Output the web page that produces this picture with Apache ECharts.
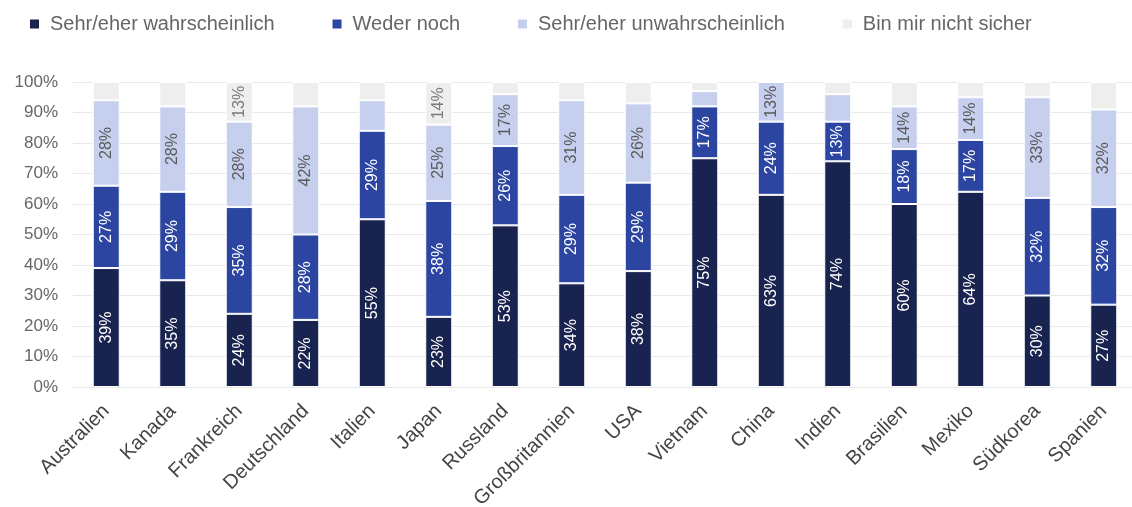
<!DOCTYPE html>
<html>
<head>
<meta charset="utf-8">
<script src="https://cdn.jsdelivr.net/npm/echarts@6/dist/echarts.min.js"></script>
<style>
  html, body { margin: 0; padding: 0; background: #ffffff; }
  #chart { width: 1132px; height: 507px; }
</style>
</head>
<body>
<div id="chart"></div>
<script>
// Länder (x-Achse)
const countries = ['Australien', 'Kanada', 'Frankreich', 'Deutschland', 'Italien', 'Japan', 'Russland',
  'Großbritannien', 'USA', 'Vietnam', 'China', 'Indien', 'Brasilien', 'Mexiko', 'Südkorea', 'Spanien'];

// Anteile in Prozent je Antwortkategorie
const likely     = [39, 35, 24, 22, 55, 23, 53, 34, 38, 75, 63, 74, 60, 64, 30, 27];
const neither    = [27, 29, 35, 28, 29, 38, 26, 29, 29, 17, 24, 13, 18, 17, 32, 32];
const unlikely   = [28, 28, 28, 42, 10, 25, 17, 31, 26,  5, 13,  9, 14, 14, 33, 32];
const notSure    = [ 6,  8, 13,  8,  6, 14,  4,  6,  7,  3,  0,  4,  8,  5,  5,  9];

const seriesNames = ['Sehr/eher wahrscheinlich', 'Weder noch', 'Sehr/eher unwahrscheinlich', 'Bin mir nicht sicher'];
const yTicks = [0, 10, 20, 30, 40, 50, 60, 70, 80, 90, 100];

const colors = ['#19234f', '#2b45a0', '#c6cfee', '#eeeeee'];
const labelColors = ['#ffffff', '#ffffff', '#5a5a5a', '#7a7a7a'];
const minLabelValue = 12;

const font = "'Liberation Sans', Arial, sans-serif";

function makeSeries(name, values, idx) {
  return {
    name: name,
    type: 'bar',
    stack: 'total',
    barWidth: 27,
    itemStyle: { color: colors[idx], borderColor: '#ffffff', borderWidth: 1 },
    label: {
      position: 'inside',
      rotate: 90,
      formatter: '{c}%',
      color: labelColors[idx],
      fontFamily: font,
      fontSize: 16
    },
    emphasis: { disabled: true },
    data: values.map(v => ({ value: v, label: { show: v >= minLabelValue } }))
  };
}

const chart = echarts.init(document.getElementById('chart'), null, { renderer: 'canvas' });
chart.setOption({
  animation: false,
  color: colors,
  textStyle: { fontFamily: font },
  legend: {
    left: 23,
    top: 9,
    itemWidth: 11,
    itemHeight: 11,
    itemGap: 56,
    icon: 'rect',
    textStyle: { fontSize: 20, color: '#666666', fontFamily: font, padding: [0, 0, 0, 5] },
    data: seriesNames
  },
  grid: { left: 73, right: -5, top: 82, bottom: 120, containLabel: false, outerBoundsMode: 'none' },
  xAxis: {
    type: 'category',
    data: countries,
    axisLine: { show: false },
    axisTick: { show: false },
    axisLabel: {
      interval: 0,
      rotate: 45,
      margin: 21,
      fontSize: 20,
      color: '#444444',
      fontFamily: font
    }
  },
  yAxis: {
    type: 'value',
    min: yTicks[0],
    max: yTicks[yTicks.length - 1],
    interval: yTicks[1] - yTicks[0],
    axisLine: { show: false },
    axisTick: { show: false },
    axisLabel: {
      formatter: '{value}%',
      fontSize: 17,
      color: '#666666',
      margin: 15,
      fontFamily: font
    },
    splitLine: { lineStyle: { color: '#e8e8e8', width: 1 } }
  },
  series: [
    makeSeries(seriesNames[0], likely, 0),
    makeSeries(seriesNames[1], neither, 1),
    makeSeries(seriesNames[2], unlikely, 2),
    makeSeries(seriesNames[3], notSure, 3)
  ]
});
</script>
</body>
</html>
